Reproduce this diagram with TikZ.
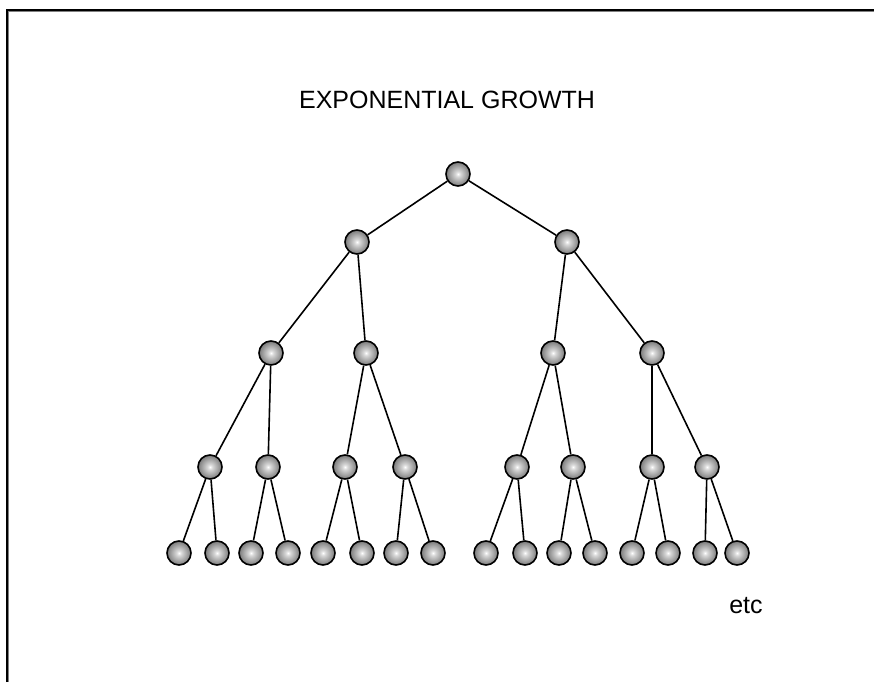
\documentclass[tikz,border=0pt]{standalone}
\usepackage{fontspec}
\setmainfont{Liberation Sans}
\usetikzlibrary{shapes,arrows,positioning}

\pgfdeclareradialshading{ballshade}{\pgfpointorigin}{color(0bp)=(white); color(5bp)=(white!85!black); color(25bp)=(black!52); color(50bp)=(black!52)}

\begin{document}
\begin{tikzpicture}[x=1pt, y=-1pt]
    \tikzstyle{ball} = [circle, draw=black, line width=1.6pt, minimum size=24pt, inner sep=0pt, shading=ballshade]
    \tikzstyle{link} = [line width=1.6pt]
    \tikzstyle{caption} = [font=\fontsize{25}{29}\selectfont, inner sep=0pt]

    \useasboundingbox (0,0) rectangle (874,682);
    \draw [line width=2pt] (7,682) -- (7,10) -- (874,10);
    \draw [gray, line width=1pt] (8.5,682) -- (8.5,11.5) -- (874,11.5);

    \node [caption] (title) at (447,100) {EXPONENTIAL GROWTH};
    \node [caption] (etc) at (746,606) {etc};

    % the tree, one row at a time
    \node [ball] (root) at (458,174) {};
    \node [ball] (a) at (357,242) {};
    \node [ball] (b) at (567,242) {};
    \foreach \name/\x in {aa/271, ab/366, ba/553, bb/652}
        \node [ball] (\name) at (\x,353) {};
    \foreach \name/\x in {aaa/210, aab/268, aba/345, abb/405, baa/517, bab/573, bba/652, bbb/707}
        \node [ball] (\name) at (\x,467) {};
    \foreach \name/\x in {aaaa/179, aaab/217, aaba/251, aabb/288, abaa/323, abab/362, abba/396, abbb/433,
                          baaa/486, baab/525, baba/559, babb/595, bbaa/632, bbab/668, bbba/705, bbbb/737}
        \node [ball] (\name) at (\x,553) {};

    \draw [link] (root) -- (a);
    \draw [link] (root) -- (b);
    \foreach \p in {a, b, aa, ab, ba, bb, aaa, aab, aba, abb, baa, bab, bba, bbb} {
        \draw [link] (\p) -- (\p a);
        \draw [link] (\p) -- (\p b);
    }
\end{tikzpicture}
\end{document}
